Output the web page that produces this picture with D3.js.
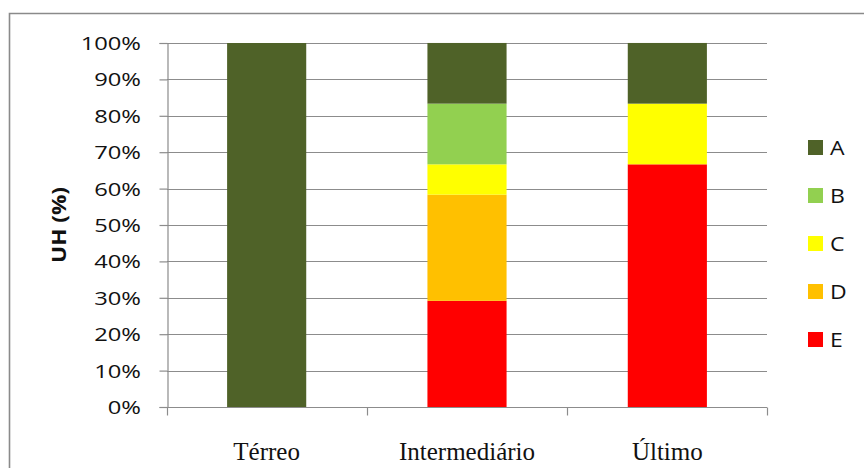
<!DOCTYPE html>
<html>
<head>
<meta charset="utf-8">
<script src="https://cdn.jsdelivr.net/npm/d3@7"></script>
<style>
  html, body { margin: 0; padding: 0; background: #fff; }
  svg { display: block; }
</style>
</head>
<body>
<svg id="chart" width="864" height="468"></svg>
<script>
// Floor positions and energy-efficiency classes (share of dwelling units, %)
const categories = ["Térreo", "Intermediário", "Último"];
const classes = ["A", "B", "C", "D", "E"];
const colors = ["#4F6228", "#92D050", "#FFFF00", "#FFC000", "#FF0000"];
const valuesA = [100, 16.67, 16.67];
const valuesB = [0, 16.67, 0];
const valuesC = [0, 8.33, 16.67];
const valuesD = [0, 29.17, 0];
const valuesE = [0, 29.17, 66.67];
const yTicks = [0, 10, 20, 30, 40, 50, 60, 70, 80, 90, 100];
const yTitle = "UH (%)";

const seriesValues = { A: valuesA, B: valuesB, C: valuesC, D: valuesD, E: valuesE };
const rows = categories.map((c, i) => {
  const r = { cat: c };
  classes.forEach(k => r[k] = seriesValues[k][i]);
  return r;
});

// Stack from the bottom: E, D, C, B, A
const stack = d3.stack().keys(classes.slice().reverse());
const layers = stack(rows);

const svg = d3.select("#chart");
const plotLeft = 167, plotRight = 767, plotTop = 43, plotBottom = 407;
const sansFont = "'Open Sans', sans-serif";

const x = d3.scaleBand().domain(categories).range([plotLeft, plotRight]).paddingInner(0.605).paddingOuter(0.3);
const y = d3.scaleLinear().domain([0, 100]).range([plotBottom, plotTop]);
const color = d3.scaleOrdinal().domain(classes).range(colors);

// Outer frame (left and top edges)
svg.append("path")
  .attr("d", "M9.5,470 V13.5 H870")
  .attr("fill", "none").attr("stroke", "#8a8a8a").attr("stroke-width", 1.6);

// Gridlines
svg.append("g").selectAll("line").data(yTicks).join("line")
  .attr("x1", plotLeft).attr("x2", plotRight)
  .attr("y1", d => Math.round(y(d)) + 0.5).attr("y2", d => Math.round(y(d)) + 0.5)
  .attr("stroke", "#8c8c8c").attr("stroke-width", 1.2);

// Bars
svg.append("g").selectAll("g").data(layers).join("g")
  .attr("fill", d => color(d.key))
  .selectAll("rect").data(d => d).join("rect")
  .attr("x", d => x(d.data.cat))
  .attr("width", x.bandwidth())
  .attr("y", d => y(d[1]))
  .attr("height", d => y(d[0]) - y(d[1]));

// Y axis
const yAxis = svg.append("g").attr("transform", `translate(${plotLeft + 0.5},0)`)
  .call(d3.axisLeft(y).tickValues(yTicks).tickSize(8).tickFormat(""));
yAxis.select(".domain").attr("stroke", "#8c8c8c").attr("stroke-width", 1.2);
yAxis.selectAll(".tick line").attr("stroke", "#8c8c8c").attr("stroke-width", 1.2);

// Y tick labels (widened face)
svg.append("g").selectAll("text").data(yTicks).join("text")
  .attr("transform", d => `translate(141,${y(d) + 7}) scale(1.25,1)`)
  .attr("text-anchor", "end")
  .attr("font-family", sansFont)
  .attr("font-size", 19)
  .attr("fill", "#111")
  .text(d => d + "%");

// X axis
const xAxis = svg.append("g").attr("transform", `translate(0,${plotBottom + 0.5})`);
xAxis.append("line").attr("x1", plotLeft).attr("x2", plotRight)
  .attr("stroke", "#8c8c8c").attr("stroke-width", 1.2);
const xEdges = [plotLeft, plotLeft + 200, plotLeft + 400, plotRight];
xAxis.selectAll("line.tk").data(xEdges).join("line").attr("class", "tk")
  .attr("x1", d => d + 0.5).attr("x2", d => d + 0.5).attr("y1", 0).attr("y2", 8)
  .attr("stroke", "#8c8c8c").attr("stroke-width", 1.2);

svg.append("g").selectAll("text").data(categories).join("text")
  .attr("x", d => x(d) + x.bandwidth() / 2)
  .attr("y", 460)
  .attr("text-anchor", "middle")
  .attr("font-family", "'Liberation Serif', 'Times New Roman', serif")
  .attr("font-size", 25)
  .attr("fill", "#111")
  .text(d => d);

// Y axis title
svg.append("text")
  .attr("transform", "translate(66,225) rotate(-90) scale(1.13,1)")
  .attr("text-anchor", "middle")
  .attr("font-family", sansFont)
  .attr("font-weight", "bold")
  .attr("font-size", 20)
  .attr("fill", "#111")
  .text(yTitle);

// Legend
const legend = svg.append("g").selectAll("g").data(classes).join("g")
  .attr("transform", (d, i) => `translate(808,${140 + i * 48})`);
legend.append("rect").attr("width", 15).attr("height", 15).attr("fill", d => color(d));
legend.append("text")
  .attr("transform", "translate(22,15) scale(1.15,1)")
  .attr("font-family", sansFont)
  .attr("font-size", 20)
  .attr("fill", "#111")
  .text(d => d);
</script>
</body>
</html>
